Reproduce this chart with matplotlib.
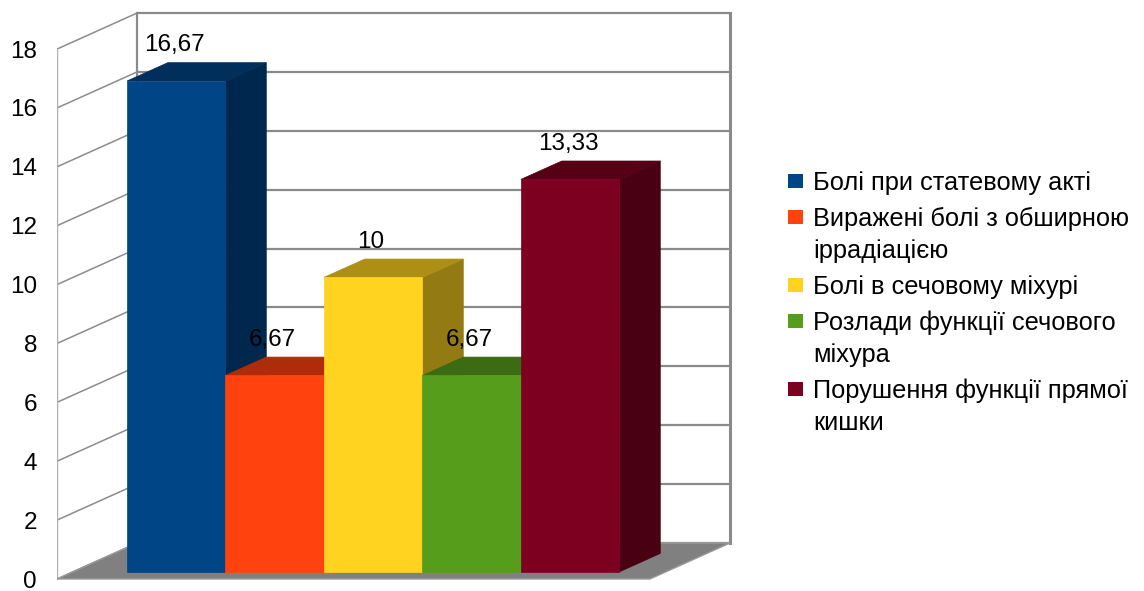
import matplotlib
matplotlib.use("Agg")
import matplotlib.pyplot as plt
from matplotlib.patches import Polygon, Rectangle
import numpy as np

plt.rcParams['font.family'] = ['Liberation Sans', 'DejaVu Sans']

# ---- data ----
categories = [
    "Болі при статевому акті",
    "Виражені болі з обширною\nіррадіацією",
    "Болі в сечовому міхурі",
    "Розлади функції сечового\nміхура",
    "Порушення функції прямої\nкишки",
]
values = [16.67, 6.67, 10, 6.67, 13.33]
colors = ['#004586', '#ff420e', '#ffd320', '#579d1c', '#7e0021']
yticks = list(range(0, 20, 2))

W, H = 1144, 591
fig = plt.figure(figsize=(W / 100, H / 100), dpi=100)

# geometry (pixels -> data units)
UX = 98.5       # px per category unit
UY = 29.44      # px per value unit
x0px, y0px = 57, 579
ax = fig.add_axes([x0px / W, 0, 1 - x0px / W, 1])
ax.set_xlim(0, (W - x0px) / UX)
ax.set_ylim((y0px - H) / UY, y0px / UY)
for s in ax.spines.values():
    s.set_visible(False)
ax.set_xticks([])
ax.set_yticks(yticks)
ax.set_yticklabels([str(t) for t in yticks], fontsize=17.5)
ax.tick_params(axis='y', length=0, pad=14.4)

DX = 80 / UX     # full depth offset
DY = 36 / UY
floor_w = 593 / UX
ymax = 18
d0, d1 = 0.2, 0.71
bar_start = 0.548


def proj(x, v, d):
    return (x + d * DX, v + d * DY)


grid_c = '#8a8a8a'
# back wall
back = Polygon([proj(0, 0, 1), proj(floor_w, 0, 1), proj(floor_w, ymax, 1), proj(0, ymax, 1)],
               closed=True, facecolor='white', edgecolor='none', zorder=1)
ax.add_patch(back)
for t in yticks:
    xa, ya = proj(0, t, 1)
    xb, yb = proj(floor_w, t, 1)
    ax.plot([xa, xb], [ya, yb], color=grid_c, lw=1.6, zorder=2, solid_capstyle='butt')
    # left wall lines
    xf, yf = proj(0, t, 0)
    ax.plot([xf, xa], [yf, ya], color='#8c8c8c', lw=1.1, zorder=2)
# wall edges
xa, ya = proj(floor_w, 0, 1)
xb, yb = proj(floor_w, ymax, 1)
ax.plot([xa, xb], [ya, yb], color=grid_c, lw=2.2, zorder=2)
xa, ya = proj(0, 0, 1)
xb, yb = proj(0, ymax, 1)
ax.plot([xa, xb], [ya, yb], color=grid_c, lw=1.6, zorder=2)
ax.plot([0, 0], [0, ymax], color='#b0b0b0', lw=1.0, zorder=2)

# floor
floor = Polygon([proj(0, 0, 0), proj(floor_w, 0, 0), proj(floor_w, 0, 1), proj(0, 0, 1)],
                closed=True, facecolor='#808080', edgecolor='#9a9a9a', lw=1.0, zorder=3)
ax.add_patch(floor)


def shade(c, f):
    r, g, b = matplotlib.colors.to_rgb(c)
    return (r * f, g * f, b * f)


for i, (v, c) in enumerate(zip(values, colors)):
    xl = bar_start + i
    xr = xl + 1
    z = 4 + i
    front = Polygon([proj(xl, 0, d0), proj(xr, 0, d0), proj(xr, v, d0), proj(xl, v, d0)],
                    closed=True, facecolor=c, edgecolor=c, lw=0.5, zorder=z)
    top = Polygon([proj(xl, v, d0), proj(xr, v, d0), proj(xr, v, d1), proj(xl, v, d1)],
                  closed=True, facecolor=shade(c, 0.68), edgecolor=shade(c, 0.68), lw=0.5, zorder=z)
    side = Polygon([proj(xr, 0, d0), proj(xr, 0, d1), proj(xr, v, d1), proj(xr, v, d0)],
                   closed=True, facecolor=shade(c, 0.58), edgecolor=shade(c, 0.58), lw=0.5, zorder=z)
    for p in (side, top, front):
        ax.add_patch(p)
    lx = proj(xl + 0.5, v, d0)[0]
    ly = proj(xl, v, d1)[1]
    lab = f"{v:g}".replace('.', ',')
    ax.annotate(lab, xy=(lx, ly), xytext=(-1.5, 12.5), textcoords='offset points',
                ha='center', va='center', fontsize=17.5, zorder=20)

# legend (manual)
base = 190
for lbl, c in zip(categories, colors):
    lines = lbl.split('\n')
    fig.add_artist(Rectangle((788 / W, 1 - (base - 2) / H), 15 / W, 14 / H,
                             transform=fig.transFigure, facecolor=c, edgecolor='none'))
    for ln in lines:
        fig.text(813 / W, 1 - base / H, ln, fontsize=18.3, ha='left', va='baseline')
        base += 32
    base += 4

fig.savefig('out.png', dpi=100)
